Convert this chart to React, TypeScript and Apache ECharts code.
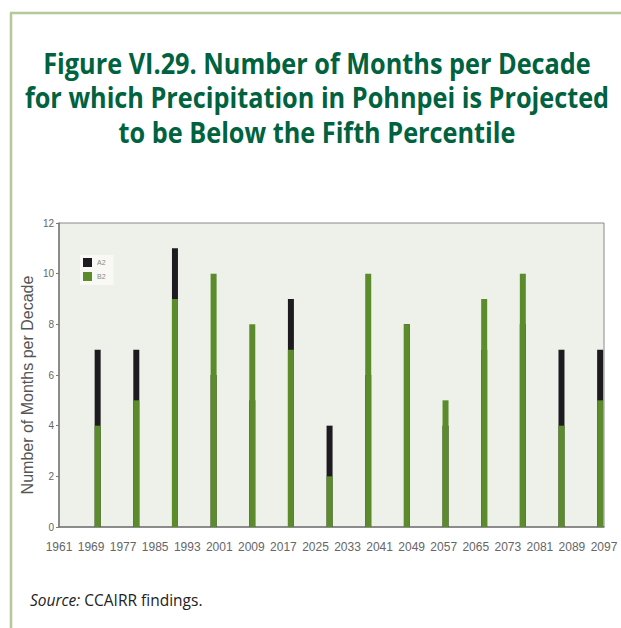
import React, { useEffect, useRef } from "react";
import * as echarts from "echarts";

const yearLabels = [
  "1961", "1969", "1977", "1985", "1993", "2001", "2009", "2017", "2025",
  "2033", "2041", "2049", "2057", "2065", "2073", "2081", "2089", "2097",
];
const seriesNames = ["A2", "B2"];
const a2Values = [7, 7, 11, 6, 5, 9, 4, 6, 8, 4, 7, 8, 7, 7];
const b2Values = [4, 5, 9, 10, 8, 7, 2, 10, 8, 5, 9, 10, 4, 5];
const yTicks = { min: 0, max: 12, interval: 2 };

const titleLines = [
  "Figure VI.29. Number of Months per Decade",
  "for which Precipitation in Pohnpei is Projected",
  "to be Below the Fifth Percentile",
];
const titleTargetWidths = [546, 583, 399];
const yAxisTitle = "Number of Months per Decade";

const TITLE_FONT = 'bold 29px "Open Sans", "Noto Sans", sans-serif';

function titleScale(): number {
  try {
    const c = document.createElement("canvas");
    const ctx = c.getContext("2d");
    if (!ctx) return 0.82;
    ctx.font = TITLE_FONT;
    let s = 0;
    titleLines.forEach((t, i) => {
      s += titleTargetWidths[i] / ctx.measureText(t).width;
    });
    return s / titleLines.length;
  } catch (e) {
    return 0.82;
  }
}

export default function App() {
  const ref = useRef<HTMLDivElement>(null);

  useEffect(() => {
    document.body.style.margin = "0";
    if (!ref.current) return;
    const chart = echarts.init(ref.current, null, { renderer: "svg" });
    const sx = titleScale();
    const titleColor = "#00623f";

    const option: any = {
      animation: false,
      backgroundColor: "#ffffff",
      grid: {
        left: 59,
        right: 17,
        top: 223,
        bottom: 101,
        show: true,
        backgroundColor: "#eef1ea",
        borderColor: "#8a8a8a",
        borderWidth: 1,
      },
      legend: {
        data: seriesNames,
        orient: "vertical",
        left: 80,
        top: 255,
        itemWidth: 9,
        itemHeight: 9,
        itemGap: 5,
        icon: "rect",
        padding: [3, 8, 4, 3],
        backgroundColor: "#f8f9f5",
        textStyle: { fontSize: 7, color: "#888", fontFamily: "Liberation Sans, Arial" },
      },
      xAxis: [
        {
          type: "value",
          min: 0,
          max: 14.1,
          show: false,
        },
        {
          type: "category",
          data: yearLabels,
          boundaryGap: false,
          position: "bottom",
          axisLine: { show: true, lineStyle: { color: "#7a7a7a", width: 1.5 } },
          axisTick: { show: false },
          axisLabel: {
            interval: 0,
            hideOverlap: false,
            fontSize: 12,
            color: "#666",
            margin: 14,
            fontFamily: "Liberation Sans, Arial",
          },
          splitLine: { show: false },
        },
      ],
      yAxis: {
        type: "value",
        min: yTicks.min,
        max: yTicks.max,
        interval: yTicks.interval,
        axisLine: { show: true, lineStyle: { color: "#7a7a7a", width: 1.5 } },
        axisTick: { show: true, length: 3, lineStyle: { color: "#7a7a7a" } },
        axisLabel: { fontSize: 10, color: "#666", margin: 5, fontFamily: "Liberation Sans, Arial" },
        splitLine: { show: false },
      },
      series: [
        {
          name: seriesNames[0],
          type: "bar",
          xAxisIndex: 0,
          barWidth: 6,
          barGap: "-100%",
          itemStyle: { color: "#1d1b1f" },
          data: a2Values.map((v, i) => [i + 1, v]),
        },
        {
          name: seriesNames[1],
          type: "bar",
          xAxisIndex: 0,
          barWidth: 6,
          barGap: "-100%",
          itemStyle: { color: "#5b8b2b" },
          data: b2Values.map((v, i) => [i + 1, v]),
        },
      ],
      graphic: [
        {
          type: "line",
          shape: { x1: 11, y1: 13, x2: 11, y2: 628 },
          style: { stroke: "#b4c898", lineWidth: 2.5 },
        },
        {
          type: "line",
          shape: { x1: 10, y1: 13, x2: 621, y2: 13 },
          style: { stroke: "#b4c898", lineWidth: 2.5 },
        },
        ...titleLines.map((t, i) => ({
          type: "text",
          x: 317,
          y: [63, 97, 132][i],
          scaleX: sx,
          style: {
            text: t,
            font: TITLE_FONT,
            fill: titleColor,
            align: "center",
            verticalAlign: "middle",
          },
        })),
        {
          type: "text",
          x: 27,
          y: 385,
          rotation: Math.PI / 2,
          style: {
            text: yAxisTitle,
            font: '16px "Liberation Sans", Arial, sans-serif',
            fill: "#555",
            align: "center",
            verticalAlign: "middle",
          },
        },
        {
          type: "text",
          x: 30,
          y: 600,
          style: {
            text: "{i|Source:} CCAIRR findings.",
            font: '15.5px "Open Sans", sans-serif',
            fill: "#222",
            verticalAlign: "middle",
            rich: {
              i: { fontStyle: "italic", fontSize: 15.5, fontFamily: "Open Sans", fill: "#222" },
            },
          },
        },
      ],
    };

    chart.setOption(option);
    return () => chart.dispose();
  }, []);

  return <div ref={ref} style={{ width: 621, height: 628 }} />;
}
